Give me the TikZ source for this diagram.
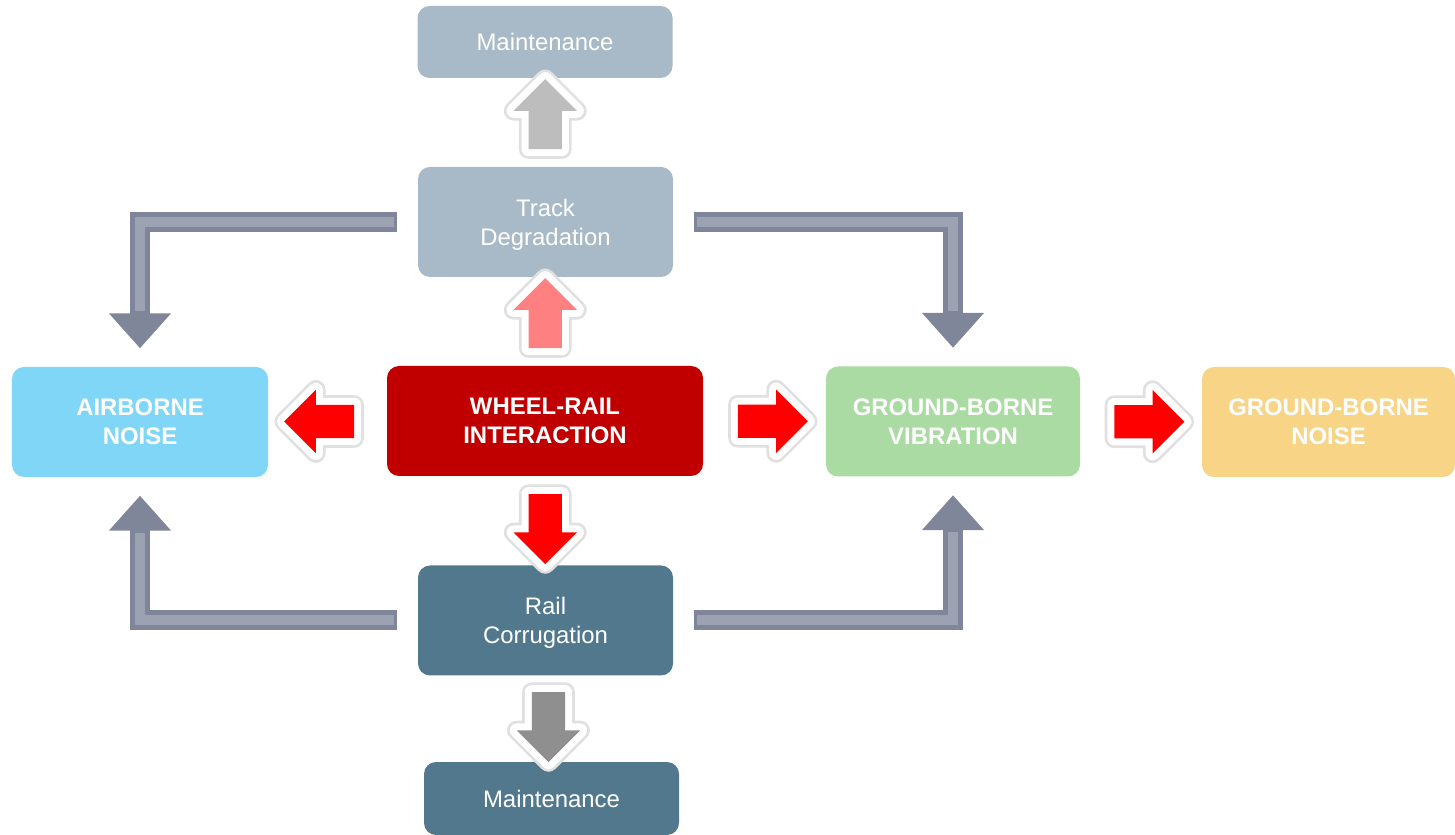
\documentclass[tikz,border=0pt]{standalone}
\usepackage{fontspec}
\setmainfont{Liberation Sans}
\usepackage{tikz}
\usetikzlibrary{positioning}
\usetikzlibrary{calc}
\usetikzlibrary{arrows.meta}
\usetikzlibrary{shapes.arrows}

\definecolor{paleslate}{HTML}{A8BAC7}
\definecolor{darkslate}{HTML}{52788E}
\definecolor{skyblue}{HTML}{7FD6F7}
\definecolor{wheelred}{HTML}{C00000}
\definecolor{palegreen}{HTML}{A9DBA2}
\definecolor{paleorange}{HTML}{F7D486}
\definecolor{arrowred}{HTML}{FF0000}
\definecolor{arrowpink}{HTML}{FF8080}
\definecolor{lightgrey}{HTML}{BDBDBD}
\definecolor{midgrey}{HTML}{8F8F8F}
\definecolor{elbowgrey}{HTML}{7F8699}
\definecolor{elbowshine}{HTML}{9CA2B2}

\tikzset{
  every box/.style={rounded corners=0.12cm, minimum width=2.55cm, minimum height=1.1cm,
    align=center, text=white, inner sep=0pt, text depth=0pt,
    font=\fontsize{6.8}{8.25}\selectfont},
  bold box/.style={every box, font=\fontsize{6.8}{8.25}\selectfont\bfseries},
  fat arrow/.style={single arrow, minimum height=0.7cm, minimum width=0.62cm,
    single arrow head extend=0.15cm, single arrow tip angle=90, inner sep=0.16cm,
    preaction={draw=black!12, line width=5.5pt, line join=round},
    preaction={draw=white, line width=4pt, line join=round}},
  elbow/.style={draw=elbowgrey, line width=0.2cm,
    -{Triangle[width=0.6cm, length=0.35cm]},
    postaction={draw=elbowshine, line width=0.1cm, -, shorten >=0.37cm, shorten <=0.03cm}}
}

\begin{document}
\begin{tikzpicture}[x=1.0cm, y=1.0cm]

\useasboundingbox (0,0) rectangle (14.55,-8.35);

% boxes
\node [every box, fill=paleslate, minimum height=0.72cm] (maint-top) at (5.45,-0.42) {Maintenance};
\node [every box, fill=paleslate] (track) at (5.455,-2.22) {Track\\Degradation};
\node [bold box, fill=wheelred, minimum width=3.16cm] (wheel) at (5.45,-4.21) {WHEEL-RAIL\\INTERACTION};
\node [bold box, fill=skyblue, minimum width=2.56cm] (airborne) at (1.40,-4.22) {AIRBORNE\\NOISE};
\node [bold box, fill=palegreen, minimum width=2.54cm] (vibration) at (9.53,-4.215) {GROUND-BORNE\\VIBRATION};
\node [bold box, fill=paleorange, minimum width=2.53cm] (ground-noise) at (13.285,-4.22) {GROUND-BORNE\\NOISE};
\node [every box, fill=darkslate] (rail) at (5.455,-6.205) {Rail\\Corrugation};
\node [every box, fill=darkslate, minimum height=0.73cm] (maint-bot) at (5.515,-7.985) {Maintenance};

% block arrows between boxes
\foreach \a/\b/\r/\c [count=\i] in {
    wheel.west/airborne.east/180/arrowred,
    wheel.east/vibration.west/0/arrowred,
    vibration.east/ground-noise.west/0/arrowred,
    wheel.north/track.south/90/arrowpink,
    wheel.south/rail.north/270/arrowred,
    track.north/maint-top.south/90/lightgrey,
    rail.south/maint-bot.north/270/midgrey}
  \node [fat arrow, shape border rotate=\r, fill=\c] (fat-\i) at ($(\a)!0.5!(\b)$) {};

% elbow arrows
\draw [elbow] ([xshift=-2mm]track.west) -| ([yshift=1.8mm]airborne.north);
\draw [elbow] ([xshift=2mm]track.east) -| ([yshift=1.8mm]vibration.north);
\draw [elbow] ([xshift=-2mm]rail.west) -| ([yshift=-1.8mm]airborne.south);
\draw [elbow] ([xshift=2mm]rail.east) -| ([yshift=-1.8mm]vibration.south);

\end{tikzpicture}
\end{document}
